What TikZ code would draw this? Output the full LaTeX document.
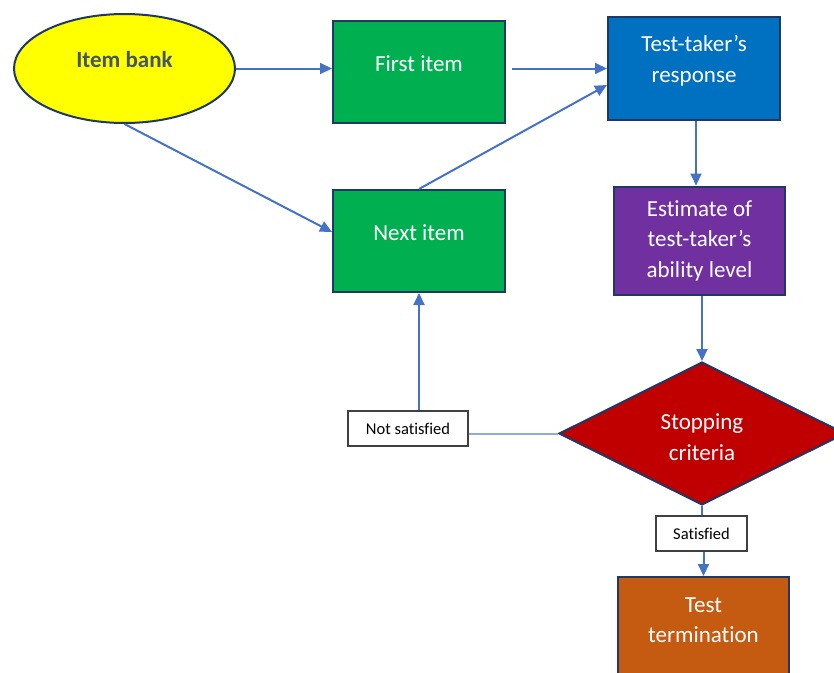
\documentclass[tikz,border=0pt]{standalone}
\usepackage{fontspec}
\setmainfont{Carlito}[Ligatures=NoCommon]
\usetikzlibrary{shapes.geometric,arrows.meta}
\definecolor{arrowblue}{HTML}{4472C4}
\definecolor{lightline}{HTML}{8FAADC}
\definecolor{navy}{HTML}{1F3864}
\definecolor{itemtext}{HTML}{44546A}
\definecolor{cyellow}{HTML}{FFFF00}
\definecolor{cgreen}{HTML}{00B050}
\definecolor{cblue}{HTML}{0070C0}
\definecolor{cpurple}{HTML}{7030A0}
\definecolor{cred}{HTML}{C00000}
\definecolor{corange}{HTML}{C55A11}
\definecolor{lblborder}{HTML}{404040}
\tikzset{
  box/.style={draw=navy, line width=2pt, rectangle, inner sep=0pt, text=white,
    font=\fontsize{23}{30.5}\selectfont, align=center},
  txt/.style={text=white, font=\fontsize{23}{30.5}\selectfont, align=center, inner sep=0pt},
  lblbox/.style={draw=lblborder, line width=1.2pt, fill=white, rectangle, inner sep=0pt,
    font=\fontsize{16.5}{20}\selectfont, text=black},
  arr/.style={draw=arrowblue, line width=2pt, -{Triangle[length=12pt,width=11pt]}},
  plain/.style={draw=arrowblue, line width=2pt},
}
\begin{document}
\begin{tikzpicture}[x=1pt,y=-1pt]
\useasboundingbox (0,0) rectangle (834,672);
\clip (0,0) rectangle (834,672);

% Item bank
\node[ellipse, draw=navy, line width=2pt, fill=cyellow, minimum width=221pt, minimum height=109pt, inner sep=0pt,
  label={[font=\fontsize{23}{28}\selectfont\bfseries, text=itemtext, yshift=8.5pt, inner sep=0pt]center:Item bank}]
  (bank) at (124.5,68.5) {};

% First item
\node[box, fill=cgreen, minimum width=172pt, minimum height=102pt,
  label={[txt, yshift=8pt]center:First item}] (first) at (419,72) {};

% Test-taker's response
\node[box, fill=cblue, minimum width=172pt, minimum height=103pt,
  label={[txt, yshift=8pt]center:Test-taker’s\\response}] (resp) at (694,68.5) {};

% Next item
\node[box, fill=cgreen, minimum width=172pt, minimum height=102pt,
  label={[txt, yshift=8pt]center:Next item}] (next) at (419,241) {};

% Estimate
\node[box, fill=cpurple, minimum width=171pt, minimum height=108pt] (est) at (699.5,240.5)
  {Estimate of\\test-taker’s\\ability level};

% Stopping criteria
\node[diamond, draw=navy, line width=2pt, fill=cred, minimum width=286pt, minimum height=143pt, inner sep=0pt,
  label={[txt, yshift=-3.5pt]center:Stopping\\criteria}] (stop) at (702,433.5) {};

% Labels
\node[lblbox, minimum width=120pt, minimum height=35pt] (notsat) at (408,428.5) {Not satisfied};
\node[lblbox, minimum width=91pt, minimum height=35pt] (sat) at (701.5,533.5) {Satisfied};

% Test termination
\node[box, fill=corange, minimum width=171pt, minimum height=108pt,
  label={[txt, yshift=11pt]center:Test\\termination}] (term) at (703.5,631) {};

% Connectors
\draw[arr] (bank.east) -- (bank.east -| first.west);
\draw[arr] ([xshift=6pt]first.east |- resp.west) -- (resp.west);
\draw[arr] (bank.south) -- ([yshift=9pt]next.west);
\draw[arr] (next.north) -- ([yshift=-16.5pt]resp.west);
\draw[arr] ([xshift=2pt]resp.south) -- ([xshift=2pt]resp.south |- est.north);
\draw[arr] (est.south -| stop.north) -- (stop.north);
\draw[draw=lightline, line width=2pt] (stop.west) -- (stop.west -| notsat.east);
\draw[arr] (notsat.north -| next.south) -- (next.south);
\draw[plain] (stop.south) -- (stop.south |- sat.north);
\draw[arr] (sat.south -| term.north) -- (term.north);
\end{tikzpicture}
\end{document}
